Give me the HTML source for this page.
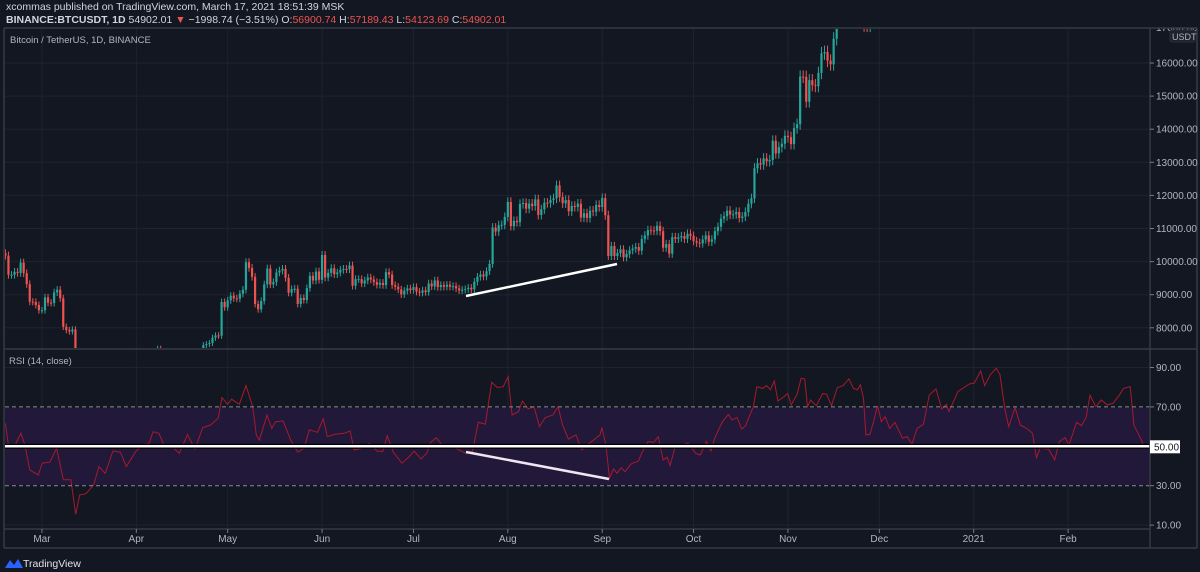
<!DOCTYPE html>
<html><head><meta charset="utf-8">
<style>
html,body{margin:0;padding:0;background:#131722;width:1200px;height:572px;overflow:hidden;font-family:"Liberation Sans",sans-serif;}
.hdr{position:absolute;left:6px;color:#d1d4dc;font-size:10.5px;white-space:nowrap;}
.r{color:#ef5350}
</style></head><body>
<div class="hdr" style="top:1px;">xcommas published on TradingView.com, March 17, 2021 18:51:39 MSK</div>
<div class="hdr" style="top:14px;font-weight:bold;">BINANCE:BTCUSDT, 1D <span style="font-weight:normal">54902.01 <span class="r">▼</span> −1998.74 (−3.51%) O:<span class="r">56900.74</span> H:<span class="r">57189.43</span> L:<span class="r">54123.69</span> C:<span class="r">54902.01</span></span></div>
<svg id="chart" width="1200" height="572" style="position:absolute;left:0;top:0" xmlns="http://www.w3.org/2000/svg">
<defs>
<clipPath id="pc"><rect x="5" y="29" width="1145" height="319"/></clipPath>
<clipPath id="rc"><rect x="5" y="350" width="1145" height="178"/></clipPath>
</defs>
<g id="grid"></g>
<rect x="5" y="408" width="1145" height="77" fill="#21183a"/>
<g id="candles" clip-path="url(#pc)"></g>
<g id="rsi" clip-path="url(#rc)"></g>
<g id="axes"></g>
</svg>
<script>
const NS='http://www.w3.org/2000/svg';
// Daily closes from 2020-02-18 (day 0)
const closes=[10180,9600,9600,9690,9660,9970,9650,9320,8790,8780,8690,8530,
8530,8920,8760,8750,9070,9150,8890,8030,7930,7890,7950,4860,5620,5170,5360,5030,5330,5410,6190,6190,6190,5830,6470,6770,6690,6760,6370,6250,5880,6390,6410,
6640,6800,6730,6860,6790,7290,7200,7370,7290,6860,6890,6910,6860,6880,6630,7100,7040,7260,7120,6830,6850,7130,7480,7510,7540,7700,7770,7760,8780,8620,
8830,8970,8890,8880,9030,9150,9980,9810,9540,8720,8560,8810,9310,9790,9310,9380,9670,9730,9780,9510,9060,9170,9180,8720,8900,8840,9200,9570,9430,9700,9450,
10200,9520,9660,9800,9620,9670,9750,9780,9770,9880,9270,9470,9470,9340,9430,9520,9460,9380,9300,9360,9290,9680,9610,9290,9240,9160,9010,9120,9190,9140,
9230,9090,9060,9130,9080,9340,9250,9430,9230,9290,9240,9300,9240,9260,9190,9130,9150,9170,9210,9160,9390,9540,9610,9550,9710,9930,11030,10910,11100,11110,11350,
11800,11070,11230,11190,11740,11770,11600,11750,11680,11880,11410,11580,11780,11770,11860,11910,12300,11950,11760,11860,11520,11680,11650,11750,11330,11460,11320,11540,11510,11710,11650,
11920,11400,10170,10470,10170,10260,10370,10130,10230,10340,10390,10440,10330,10680,10790,10950,10940,10930,11080,10920,10420,10530,10240,10740,10690,10730,10770,10690,10840,10780,
10620,10570,10550,10670,10790,10600,10670,10920,11050,11300,11370,11540,11420,11430,11500,11320,11360,11500,11750,11910,12820,12970,12930,13120,13030,13070,13650,13270,13460,13560,13800,
13760,13550,14030,14150,15590,15580,14830,15480,15330,15300,15700,16290,16330,16070,15960,16730,17660,17800,17820,18680,18720,18420,18380,19160,18740,17150,17140,17720,18180,19700,
18790];
const firstOpen=10250;
// RSI samples: day index and value
const rsiDays=[0,1,3.3,5.1,6.4,8,10.8,12.1,14.6,16.8,19,21.5,23.1,24.4,26.5,29,30.7,32.8,35.3,37.8,39.7,42.8,45.4,47.2,48.5,50.4,52.3,54.8,57.1,59.8,62.3,64.8,67.4,69.9,71.1,73,74.3,76.8,79,81.2,82.4,83.4,85.9,87.5,88.7,91.2,93.7,96,98.1,99.8,102.5,104.4,105.7,108.2,111.3,113.2,114.5,117,119.5,122,123.9,125.4,127.4,130.2,132.7,134.2,136.5,138.4,139.6,141.5,143.8,146.5,149,151.3,153.4,155.3,157.6,159.7,161.6,163.5,165.1,166.4,168.5,169.8,171.7,173.6,175.4,177.3,179.8,181.5,183,184.9,187.4,189.3,191.8,195.3,
195.9,197.2,198.4,199.7,200.9,202.2,203.5,205.4,207.9,209.1,211,212.9,214.4,216,217.3,218.3,219.8,222.3,224.2,226.7,228.2,230.2,231.7,233,235.5,237.4,238.7,240.3,241.8,243.1,245.6,246.8,248.7,250,251.2,252.5,253.7,255.6,256.9,258.1,260,261.3,262.5,263.4,264.4,266.3,268.4,269.7,271.3,273.2,275.1,277,278.5,279.8,280.8,281.8,282.6,283.9,285.2,286.4,287.7,288.9,290.4,292.1,294.6,296.2,297.7,299.4,301.5,303.4,305.6,307.5,309,309.9,312.8,314.4,316.6,318.2,320.3,321.6,323.5,325.4,326.6,328.3,329.5,331.6,333.3,335.4,337.3,338.6,339.8,342.6,344.6,346.1,348,349.3,351.8,353.4,354.9,356.2,358.1,359.9,361.8,363.7,366,367.2,369.4,370.6,371.9,373.8,375];
const rsiValues=[61.7,50.7,51,56.6,50.7,38,35.4,41.4,42,49,33,33,15.5,25.3,26,30.4,39.7,36.3,47.6,47,39.7,47.3,51,51.5,57.4,56.6,49.8,49.8,46.4,56,48.6,59.5,60.8,64.2,74.7,71.3,73.9,71.3,80.8,70.1,55.8,53.2,65.9,59.1,62.5,62.9,53.2,47,49,58.3,57.1,63.9,54.9,56.1,56.6,57.8,48.1,49,51.5,47.6,47.3,55.4,47,41.4,44.8,47.6,43.6,46.4,52,54.4,49.8,50.3,48.1,46.4,47.3,62.2,61.2,82.5,79.8,80.3,85.4,65.9,67.6,73,69,70.1,60,64.6,65.9,70.1,60.8,53.7,55.8,48.1,51.5,55.8,
59.5,50.7,33.8,38.5,36.3,39.2,37.1,40.9,42.6,47,52.4,52,54.9,43.1,44.4,40.2,49,50.7,51.7,46.4,45.6,52.4,47.6,54.4,62.5,66.2,63.4,64.6,58.8,60.5,70.1,80.3,79.4,80.8,78.7,83.2,73,75.1,76.8,71,76.4,84.5,84.2,70.1,73.5,70.6,76.8,76.4,70.6,79.8,80.8,84.2,79.4,78.7,81.2,74.4,55.8,56.1,62.9,70.6,62.5,65.1,59.1,62.2,54.1,54.9,51,59.1,61.2,76.1,79.1,69,71.3,67.6,77.7,79.4,81.6,82.1,88.2,80.8,86.5,89.6,86.5,68.4,60,69.6,60.8,59.1,56.6,44.2,49,48.6,43.1,52.4,54.4,50.7,62.2,60.5,64.6,75.9,70.1,73.5,71,71.8,76.4,79.4,80.3,60.8,56.9,50.7,49.8];
const priceTicks=[8000,9000,10000,11000,12000,13000,14000,15000,16000];
const rsiTicks=[90,70,50,30,10];
const monthLabels=['Mar','Apr','May','Jun','Jul','Aug','Sep','Oct','Nov','Dec','2021','Feb'];
const monthDays=[12,43,73,104,134,165,196,226,257,287,318,349];

const xDay=d=>5.4+d*3.045;
const yP=p=>63+(16000-p)*0.0331;
const yR=v=>446.3-(v-50)*1.97;
function mk(tag,attrs,parent){const e=document.createElementNS(NS,tag);for(const k in attrs)e.setAttribute(k,attrs[k]);parent.appendChild(e);return e;}
const grid=document.getElementById('grid'),cg=document.getElementById('candles'),rg=document.getElementById('rsi'),ax=document.getElementById('axes');

priceTicks.forEach(p=>{const l=mk('line',{x1:5,x2:1150,y1:yP(p),y2:yP(p),stroke:'#1f2330','stroke-width':1},grid);

});
[90,10].forEach(v=>{const l=mk('line',{x1:5,x2:1150,y1:yR(v),y2:yR(v),stroke:'#1f2330'},grid);

});
monthDays.forEach(d=>{const l=mk('line',{x1:xDay(d),x2:xDay(d),y1:29,y2:528,stroke:'#1f2330'},grid);

});

closes.forEach((c,i)=>{
 const o=i===0?firstOpen:closes[i-1];
 const up=c>=o, col=up?'#26a69a':'#ef5350';
 const x=xDay(i);
 const hi=Math.max(o,c)*1.012, lo=Math.min(o,c)*0.988;
 const w=mk('line',{x1:x,x2:x,y1:yP(hi),y2:yP(lo),stroke:col,'stroke-width':1},cg);
 
 
 const t=yP(Math.max(o,c)),b=yP(Math.min(o,c));
 const r=mk('rect',{x:x-1.1,y:t,width:2.2,height:Math.max(1,b-t),fill:col},cg);
 
 
});

[70,30].forEach(v=>{const l=mk('line',{x1:5,x2:1150,y1:yR(v),y2:yR(v),stroke:'#8a8d96','stroke-dasharray':'4,3','stroke-width':1},ax);

});
const pts=rsiDays.map((d,i)=>xDay(d).toFixed(1)+','+yR(rsiValues[i]).toFixed(1)).join(' ');
const rl=mk('polyline',{points:pts,fill:'none',stroke:'#a8192e','stroke-width':1},rg);



const fl1=mk('line',{x1:5,x2:1150,y1:yR(50),y2:yR(50),stroke:'#000','stroke-width':5},ax);


const fl=mk('line',{x1:5,x2:1150,y1:yR(50),y2:yR(50),stroke:'#fff','stroke-width':2.5},ax);


const t1=mk('line',{x1:466,y1:296,x2:617,y2:264,stroke:'#fff','stroke-width':2.5},ax);


const t2=mk('line',{x1:466,y1:452,x2:609,y2:479,stroke:'#f0e6f0','stroke-width':2.5},ax);



function txt(s,x,y,attrs,name,inter){const t=mk('text',Object.assign({x:x,y:y,fill:'#b2b5be','font-size':10,'font-family':'Liberation Sans, sans-serif'},attrs||{}),ax);t.textContent=s;
 
 return t;}
txt('17000.00',1156,31,{},'price-tick-label');
const cover=mk('rect',{x:1151,y:18,width:48,height:10,fill:'#131722'},ax);



[[4,28,1197,28],[4,28,4,548],[1197,28,1197,548],[4,548,1197,548],[1150,28,1150,548],[4,349,1197,349],[4,529,1150,529]].forEach(a=>{
 const l=mk('line',{x1:a[0],y1:a[1],x2:a[2],y2:a[3],stroke:'#363a45','stroke-width':1.5},ax);
 
 
});

priceTicks.forEach(p=>{const y=yP(p);
 const tk=mk('line',{x1:1150,x2:1154,y1:y,y2:y,stroke:'#787b86'},ax);
 
 
 txt(p.toFixed(2),1156,y+3.5,{},'price-tick-label');});
const ub=mk('rect',{x:1170,y:30,width:25,height:12,rx:2,fill:'#1e222d',stroke:'#2a2e39'},ax);


txt('USDT',1172,40,{'font-size':9},'currency-label');
rsiTicks.forEach(v=>{if(v===50)return;const y=yR(v);
 const tk=mk('line',{x1:1150,x2:1154,y1:y,y2:y,stroke:'#787b86'},ax);
 
 
 txt(v.toFixed(2),1156,y+3.5,{},'rsi-tick-label');});
const lb=mk('rect',{x:1150,y:yR(50)-6,width:30,height:13,fill:'#fff'},ax);


txt('50.00',1154,yR(50)+4,{fill:'#131722'},'rsi-50-label');
monthLabels.forEach((m,i)=>{const x=xDay(monthDays[i]);
 const tk=mk('line',{x1:x,x2:x,y1:529,y2:533,stroke:'#787b86'},ax);
 
 
 txt(m,x,542,{'text-anchor':'middle'},'time-tick-label');});
txt('Bitcoin / TetherUS, 1D, BINANCE',10,43,{'font-size':9.5},'series-legend');
txt('RSI (14, close)',9,364,{'font-size':9.5},'rsi-legend');
const lg=mk('path',{d:'M5 568 L10 560 L14 565 L18 559 L23 568 Z',fill:'#2962ff'},ax);


txt('TradingView',23,567,{fill:'#e0e3eb','font-size':10.5},'tradingview-wordmark',true);
</script>
</body></html>
